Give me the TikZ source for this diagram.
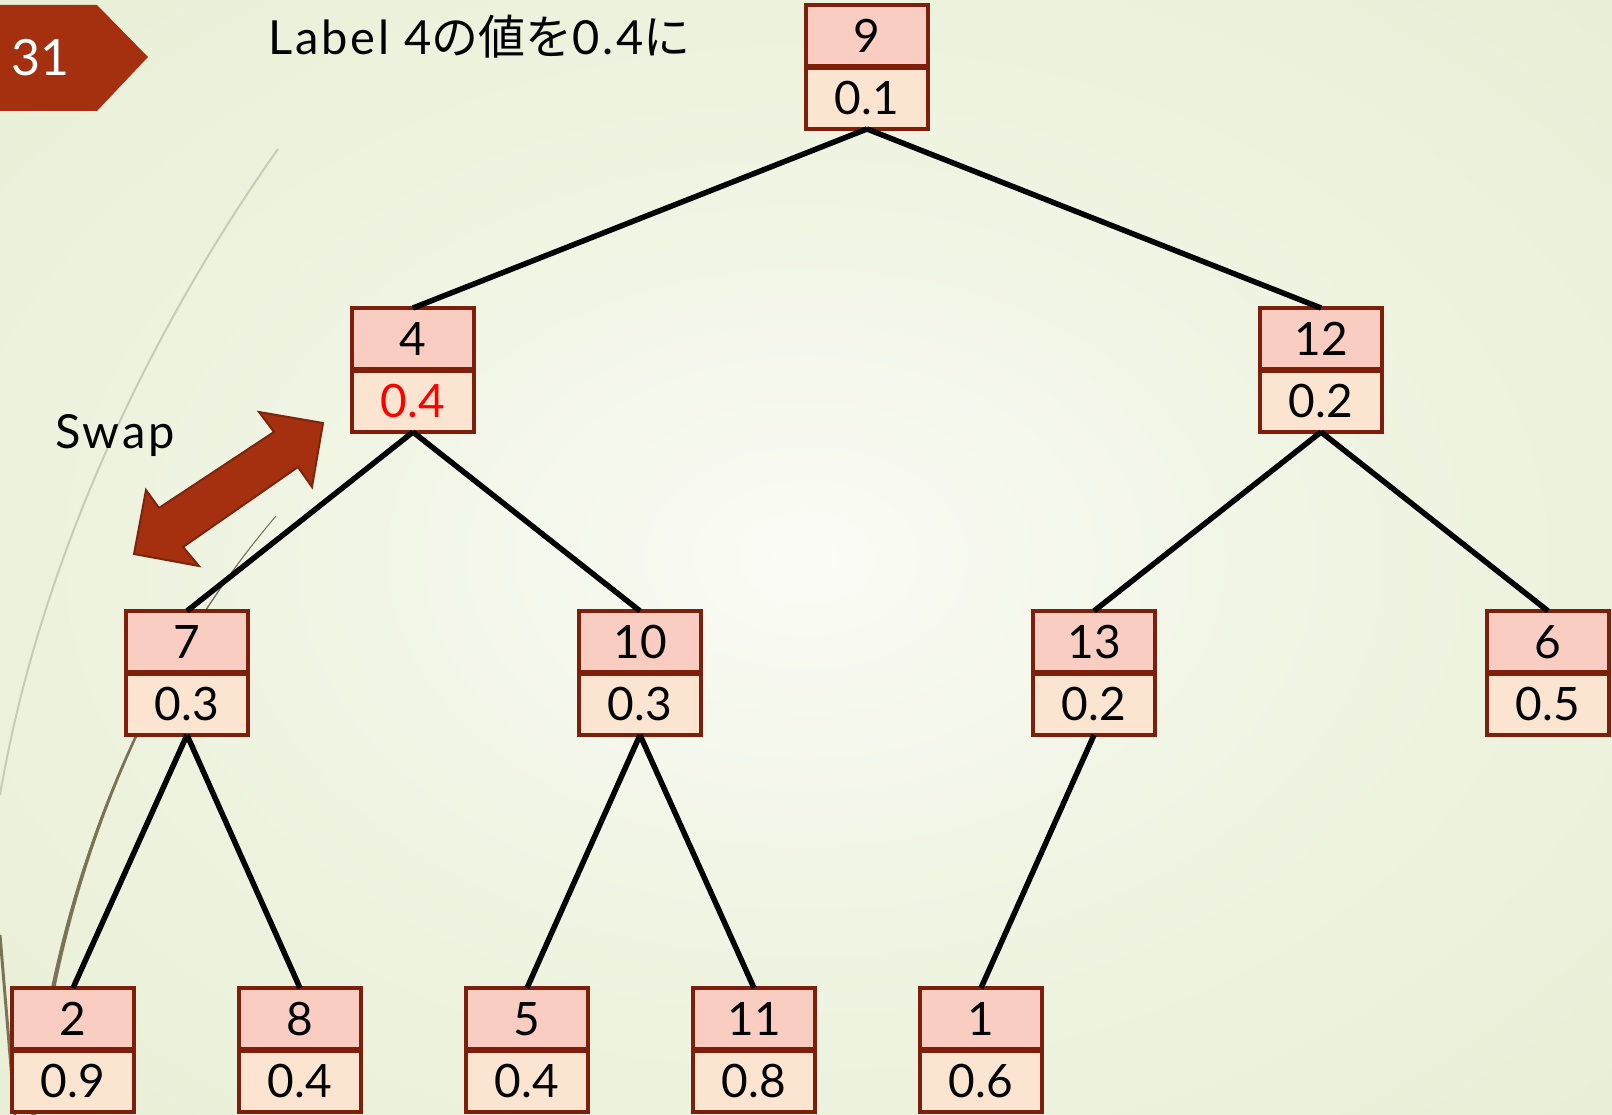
\documentclass[tikz,border=0pt]{standalone}
\usepackage{fontspec}
\setmainfont{Lato}
\newfontfamily\spacedfont[LetterSpace=6]{Lato}
\newfontfamily\jpfont{Noto Sans CJK JP}
\definecolor{bginner}{HTML}{FBFCF6}
\definecolor{bgmid}{HTML}{F1F5E5}
\definecolor{bgedge}{HTML}{E3EBCB}
\definecolor{bgcorner}{HTML}{DBE5BE}
\definecolor{topfill}{HTML}{F9CDC2}
\definecolor{botfill}{HTML}{FBE5D0}
\definecolor{boxline}{HTML}{7E1F0B}
\definecolor{tagred}{HTML}{A5300F}
\definecolor{arrowline}{HTML}{7E240C}
\definecolor{lightcurve}{HTML}{C9CCB4}
\definecolor{olive}{HTML}{7B7356}
\definecolor{hotred}{HTML}{FF0000}
\pgfdeclareradialshading{slidebg}{\pgfpoint{0bp}{0bp}}{color(0bp)=(bginner); color(14bp)=(bgmid); color(50bp)=(bgedge); color(75bp)=(bgcorner)}
\newcommand\nodefont{\fontsize{46}{55}\selectfont}
\newcommand\titlefont{\spacedfont\fontsize{47}{56}\selectfont}
\tikzset{
  topbox/.style={draw=boxline, line width=3.5pt, fill=topfill, minimum width=122pt,
    minimum height=62pt, inner sep=0pt, outer sep=0pt, anchor=north, font=\nodefont},
  botbox/.style={topbox, fill=botfill},
  divider/.style={draw=boxline, line width=6pt},
  edge/.style={draw=black, line width=5.5pt},
}
\newcommand\treenode[5]{%
  \node[topbox] (#1) at (#2,#3) {#4};
  \node[botbox] (#1v) at (#1.south) {#5};
  \draw[divider] (#1.south west) -- (#1.south east);
}
\begin{document}
\begin{tikzpicture}[x=1pt,y=-1pt]
\useasboundingbox (0,0) rectangle (1612,1115);
\shade[shading=slidebg] (0,0) rectangle (1612,1115);
% decorative curves
\draw[lightcurve, line width=2pt] (278,149) .. controls (150,330) and (40,560) .. (0,795);
\fill[olive] (276,516) .. controls (170,640) and (60,840) .. (31,1115)
  -- (36,1115) .. controls (64,840) and (171,641) .. (276,516) -- cycle;
\draw[olive, line width=1pt] (276,516) .. controls (170,640) and (60,840) .. (33,1115);
\draw[olive, line width=3pt] (0,935) -- (15,1115);
% slide number tag
\fill[tagred] (0,5) -- (97,5) -- (148,57) -- (97,111) -- (0,111) -- cycle;
\node[text=white, font=\fontsize{50}{60}\selectfont] (slideno) at (41,58) {31};
% title
\node[anchor=base west, font=\titlefont, inner sep=0pt] (title) at (268,55) {Label 4{\jpfont の値を}0.4{\jpfont に}};
% tree
\treenode{n9}{867}{5}{9}{0.1}
\treenode{n4}{413}{308}{4}{\textcolor{hotred}{0.4}}
\treenode{n12}{1321}{308}{12}{0.2}
\treenode{n7}{187}{611}{7}{0.3}
\treenode{n10}{640}{611}{10}{0.3}
\treenode{n13}{1094}{611}{13}{0.2}
\treenode{n6}{1548}{611}{6}{0.5}
\treenode{n2}{73}{988}{2}{0.9}
\treenode{n8}{300}{988}{8}{0.4}
\treenode{n5}{527}{988}{5}{0.4}
\treenode{n11}{754}{988}{11}{0.8}
\treenode{n1}{981}{988}{1}{0.6}
\draw[edge] (n9v.south) -- (n4.north);
\draw[edge] (n9v.south) -- (n12.north);
\draw[edge] (n4v.south) -- (n7.north);
\draw[edge] (n4v.south) -- (n10.north);
\draw[edge] (n12v.south) -- (n13.north);
\draw[edge] (n12v.south) -- (n6.north);
\draw[edge] (n7v.south) -- (n2.north);
\draw[edge] (n7v.south) -- (n8.north);
\draw[edge] (n10v.south) -- (n5.north);
\draw[edge] (n10v.south) -- (n11.north);
\draw[edge] (n13v.south) -- (n1.north);
% swap label and arrow
\node[anchor=base west, font=\titlefont, inner sep=0pt] (swap) at (55,448) {Swap};
\draw[fill=tagred, draw=arrowline, line width=2pt, line join=miter]
  (134,554) -- (146,490) -- (159,508) -- (274,432) -- (259,412) -- (323,423)
  -- (312,487) -- (298,467) -- (183,547) -- (199,566) -- cycle;
\end{tikzpicture}
\end{document}
